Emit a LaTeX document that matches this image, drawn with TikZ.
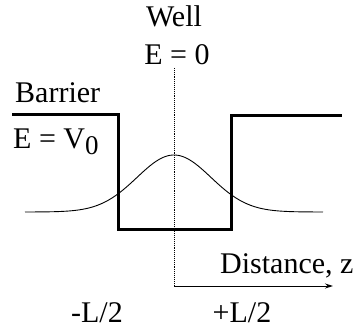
\documentclass[tikz,border=0pt]{standalone}
\usepackage{fontspec}
\setmainfont{Liberation Serif}
\usetikzlibrary{arrows.meta, positioning}

\begin{document}
\begin{tikzpicture}[
  x=1pt, y=-1pt,
  >=Stealth,
  every node/.style = {font=\fontsize{30}{32}\selectfont, inner sep=0pt},
  % Line styles
  wellline/.style  = {line width=3pt, line join=miter},
  waveline/.style  = {line width=0.9pt},
  axisline/.style  = {->, line width=0.9pt, densely dotted},
  zarrow/.style    = {-{Stealth[length=8pt, width=5pt]}, line width=0.9pt},
  labeltext/.style = {anchor=base},
]
\useasboundingbox (0,0) rectangle (357,329);

% ── Potential profile ─────────────────────────────────────────────────────────
\coordinate (barrL) at (12,115);
\coordinate (stepL) at (118,115);
\coordinate (botL)  at (118,230);
\coordinate (botR)  at (231,230);
\coordinate (stepR) at (231,116);
\coordinate (barrR) at (342,116);

\draw[wellline] (barrL) -- (stepL) -- (botL) -- (botR) -- (stepR) -- (barrR);

% ── Wave function ─────────────────────────────────────────────────────────────
\draw[waveline, domain=25:323, samples=120, smooth]
  plot (\x, {212 - 57*exp(-((\x-174)/37)^2/2)});

% ── Axes ──────────────────────────────────────────────────────────────────────
\coordinate (top)    at (174,68);
\coordinate (origin) at (174,286);
\coordinate (zend)   at (333,286);

\draw[line width=0.9pt, densely dotted] (top) -- (origin);
\draw[zarrow] (origin) -- (zend);

% ── Labels ────────────────────────────────────────────────────────────────────
\node[labeltext] (well)    at (174,27)  {Well};
\node[labeltext] (wellE)   at (177,65)  {E = 0};
\node[labeltext, anchor=base west] (barrier) at (15,103) {Barrier};
\node[labeltext, anchor=base west] (barrE)   at (13,149)
  {E = V\raisebox{-0.2em}{\fontsize{27}{27}\selectfont 0}};
\node[labeltext, anchor=base west] (dist)    at (220,273) {Distance, z};
\node[labeltext] (minusL) at (97,323)  {-L/2};
\node[labeltext] (plusL)  at (242,323) {+L/2};

\end{tikzpicture}
\end{document}
